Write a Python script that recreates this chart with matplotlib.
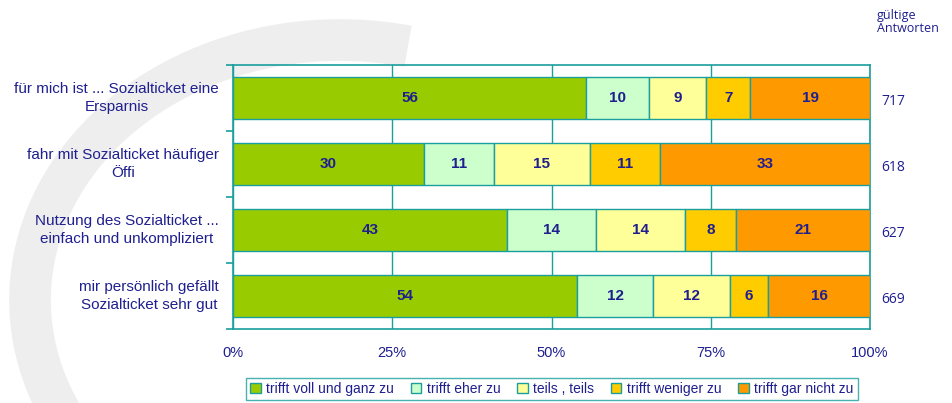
import matplotlib
matplotlib.use('Agg')
import matplotlib.pyplot as plt
from matplotlib.patches import Arc
import numpy as np

# Daten
categories = [
    'für mich ist ... Sozialticket eine\nErsparnis',
    'fahr mit Sozialticket häufiger\nÖffi',
    'Nutzung des Sozialticket ...\neinfach und unkompliziert',
    'mir persönlich gefällt\nSozialticket sehr gut',
]
series_names = ['trifft voll und ganz zu', 'trifft eher zu', 'teils , teils',
                'trifft weniger zu', 'trifft gar nicht zu']
voll = [56, 30, 43, 54]
eher = [10, 11, 14, 12]
teils = [9, 15, 14, 12]
weniger = [7, 11, 8, 6]
garnicht = [19, 33, 21, 16]
antworten = [717, 618, 627, 669]
xtick_labels = ['0%', '25%', '50%', '75%', '100%']

colors = ['#99CC00', '#CCFFCC', '#FFFF99', '#FFCC00', '#FF9900']
edge = '#1A9E9E'
navy = '#1F1F8F'

plt.rcParams['font.family'] = ['Liberation Sans', 'DejaVu Sans']

fig = plt.figure(figsize=(9.52, 4.03), dpi=100)

# Wasserzeichen (grauer Bogen im Hintergrund)
bg = fig.add_axes([0, 0, 1, 1], zorder=0)
bg.set_xlim(0, 952)
bg.set_ylim(403, 0)
bg.axis('off')
bg.add_patch(Arc((340, 300), 620, 520, theta1=125, theta2=285,
                 color='#EEEEEE', lw=30))

ax = fig.add_axes([233 / 952, 1 - 329 / 403, 637 / 952, 264 / 403], zorder=1)
ax.patch.set_alpha(0)

data = np.array([voll, eher, teils, weniger, garnicht], dtype=float)
totals = data.sum(axis=0)
pct = data / totals * 100
y = np.arange(len(categories))
left = np.zeros(len(categories))
for i, name in enumerate(series_names):
    ax.barh(y, pct[i], left=left, height=0.64, color=colors[i],
            edgecolor=edge, linewidth=1, label=name, zorder=3)
    for j in range(len(categories)):
        ax.text(left[j] + pct[i][j] / 2, y[j], f'{int(data[i][j])}',
                ha='center', va='center', fontsize=11, fontweight='bold',
                color=navy, zorder=4)
    left += pct[i]

ax.set_ylim(len(categories) - 0.5, -0.5)
ax.set_xlim(0, 100)
ax.set_xticks([0, 25, 50, 75, 100])
ax.set_xticklabels(xtick_labels, fontsize=10.5, color=navy)
ax.set_yticks(np.arange(-0.5, len(categories), 1.0))
ax.set_yticklabels([])
ax.tick_params(axis='y', length=5, color=edge, width=1.2)
ax.tick_params(axis='x', length=0, pad=12)
for j, cat in enumerate(categories):
    ax.text(-2.2, y[j], cat, ha='right', va='center', fontsize=11,
            color=navy, multialignment='center', linespacing=1.3)
ax.xaxis.grid(True, color=edge, linewidth=1, zorder=0)
for s in ax.spines.values():
    s.set_color(edge)
    s.set_linewidth(1.2)

# gültige Antworten
fig.text(877 / 952, 1 - 9 / 403, 'gültige\nAntworten', ha='left', va='top',
         fontsize=9, color=navy, family=['Open Sans', 'DejaVu Sans'], linespacing=1.0)
for j, n in enumerate(antworten):
    ax.text(1.036, 1 - (j + 0.5) / len(categories) - 0.015, str(n), transform=ax.transAxes,
            ha='center', va='center', fontsize=10, color=navy,
            family=['Open Sans', 'DejaVu Sans'])

leg = fig.legend(loc='center', bbox_to_anchor=(552 / 952, 1 - 389 / 403), ncol=5,
                 frameon=True, fancybox=False, fontsize=10, handlelength=0.75,
                 handleheight=0.75, handletextpad=0.4, columnspacing=1.2,
                 borderpad=0.3, labelcolor=navy)
leg.get_frame().set_edgecolor(edge)
leg.get_frame().set_linewidth(1)

fig.savefig('out.png', dpi=100)
